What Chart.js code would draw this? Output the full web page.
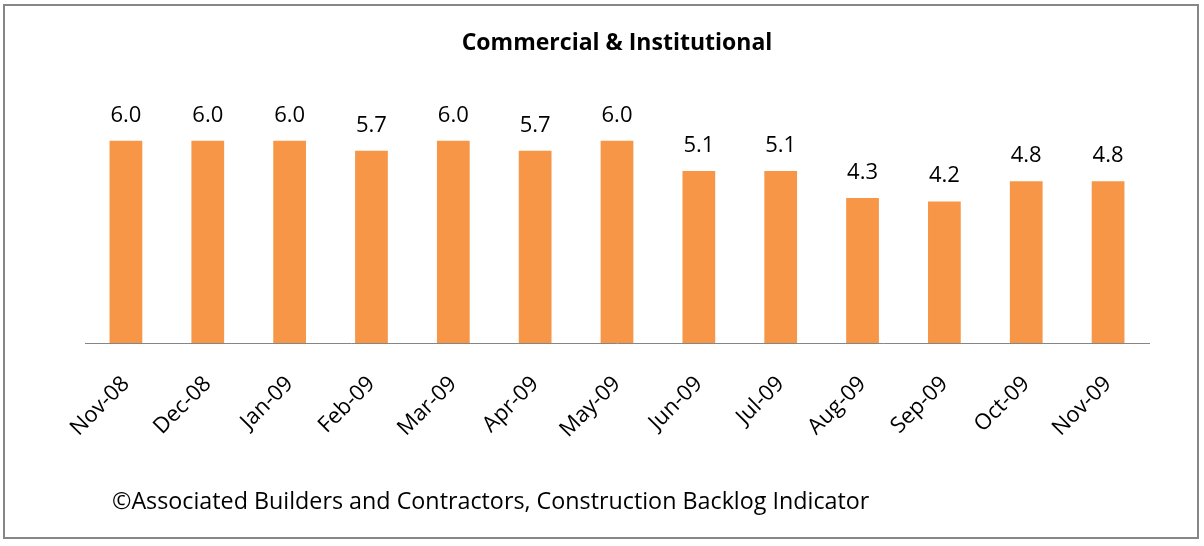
<!DOCTYPE html>
<html>
<head>
<meta charset="utf-8">
<script src="https://cdn.jsdelivr.net/npm/chart.js@4/dist/chart.umd.min.js"></script>
<style>
  html, body { margin: 0; padding: 0; background: #fff; }
  #wrap { position: relative; width: 1204px; height: 546px; }
  #frame { position: absolute; left: 3px; top: 4px; width: 1192px; height: 531px; border: 2px solid #868686; pointer-events: none; }
  #footer { position: absolute; left: 112px; top: 484px; font-family: "Open Sans", sans-serif; font-size: 23.3px; line-height: 32px; color: #000; white-space: nowrap; }
  canvas { position: absolute; left: 0; top: 0; }
</style>
</head>
<body>
<div id="wrap">
  <canvas id="c" width="1204" height="546"></canvas>
  <div id="frame"></div>
  <div id="footer">©Associated Builders and Contractors, Construction Backlog Indicator</div>
</div>
<script>
const categories = ["Nov-08","Dec-08","Jan-09","Feb-09","Mar-09","Apr-09","May-09","Jun-09","Jul-09","Aug-09","Sep-09","Oct-09","Nov-09"];
const backlogValues = [6.0, 6.0, 6.0, 5.7, 6.0, 5.7, 6.0, 5.1, 5.1, 4.3, 4.2, 4.8, 4.8];
const chartTitle = "Commercial & Institutional";

const valueLabels = {
  id: 'valueLabels',
  afterDatasetsDraw(chart) {
    const ctx = chart.ctx;
    const meta = chart.getDatasetMeta(0);
    ctx.save();
    ctx.font = '22px "Open Sans", sans-serif';
    ctx.fillStyle = '#000';
    ctx.textAlign = 'center';
    ctx.textBaseline = 'alphabetic';
    meta.data.forEach((bar, i) => {
      ctx.fillText(backlogValues[i].toFixed(1), bar.x, bar.y - 19);
    });
    ctx.restore();
  }
};

new Chart(document.getElementById('c'), {
  type: 'bar',
  data: {
    labels: categories,
    datasets: [{
      data: backlogValues,
      backgroundColor: '#F79646',
      borderWidth: 0,
      categoryPercentage: 1.0,
      barPercentage: 0.4
    }]
  },
  options: {
    responsive: false,
    animation: false,
    layout: { padding: { left: 85, right: 55, top: 0, bottom: 83 } },
    plugins: {
      legend: { display: false },
      tooltip: { enabled: false },
      title: {
        display: true,
        text: chartTitle,
        color: '#000',
        font: { family: '"Open Sans", sans-serif', size: 23, weight: 'bold', lineHeight: 1.2 },
        padding: { top: 30, bottom: 49.4 }
      }
    },
    scales: {
      x: {
        grid: { display: false },
        border: { display: true, color: '#868686', width: 1 },
        ticks: {
          color: '#000',
          font: { family: '"Open Sans", sans-serif', size: 22 },
          maxRotation: 45, minRotation: 45,
          padding: 20,
          autoSkip: false
        },
        afterFit(scale) { scale.height = 120; }
      },
      y: {
        display: false,
        min: 0,
        max: 7
      }
    }
  },
  plugins: [valueLabels]
});
</script>
</body>
</html>
